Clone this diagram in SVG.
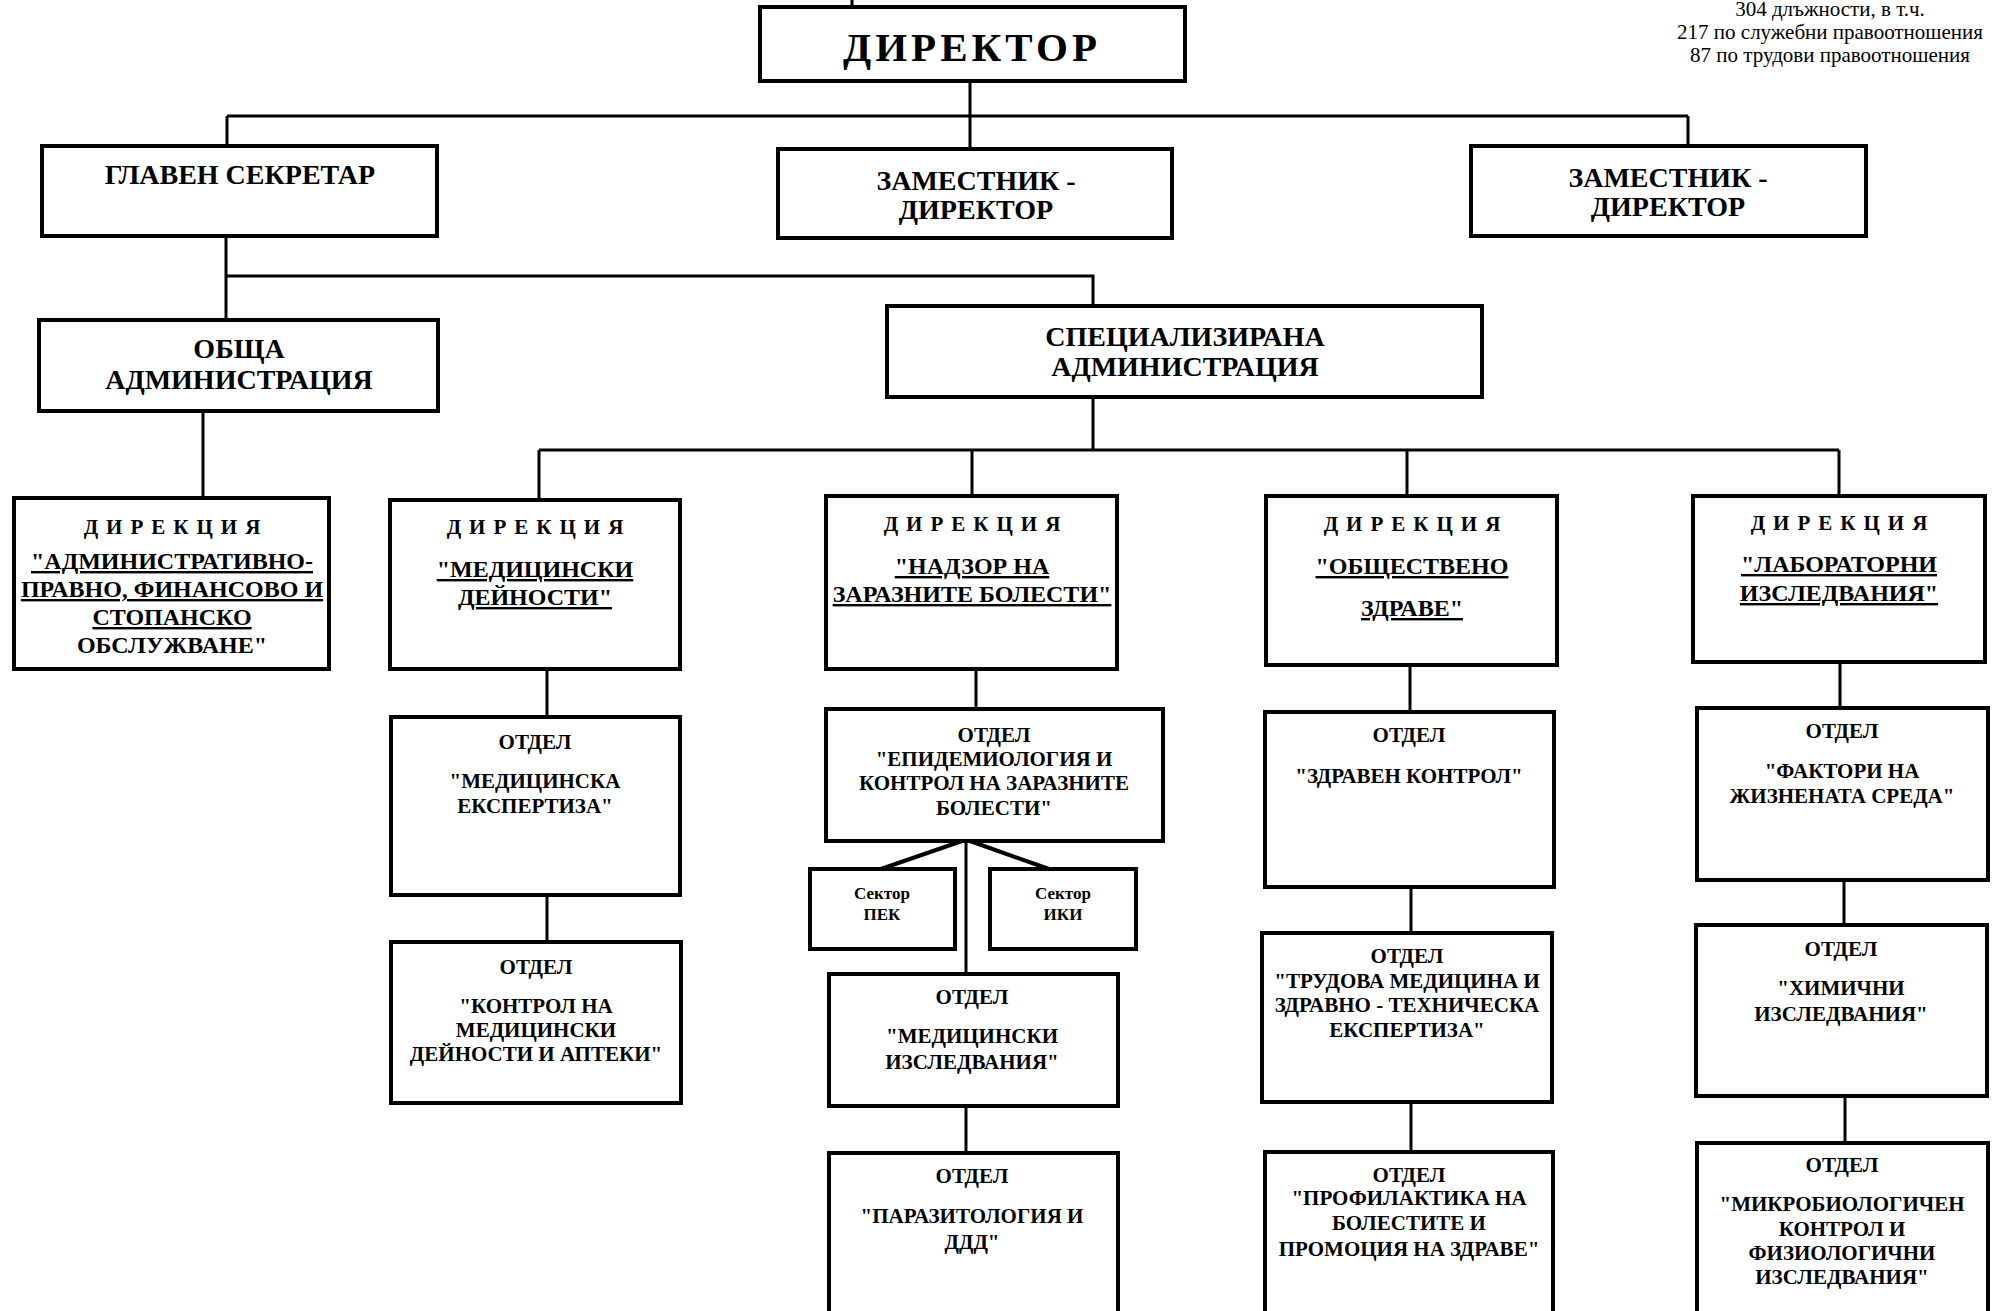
<svg xmlns="http://www.w3.org/2000/svg" width="1993" height="1311" viewBox="0 0 1993 1311">
<style>
.box{fill:#fff;stroke:#000;stroke-width:4}
.c{stroke:#000;stroke-width:3;fill:none}
.t{font-family:"Liberation Serif","Times New Roman",serif;font-weight:bold;text-anchor:middle;fill:#000}
.big{font-size:41px;letter-spacing:4px}
.l1{font-size:28px}
.d{font-size:21px;letter-spacing:8px}
.n{font-size:24px}
.u{text-decoration:underline}
.o{font-size:21px}
.s{font-size:17px}
.note{font-family:"Liberation Serif","Times New Roman",serif;font-size:21px;text-anchor:middle;fill:#000}
</style>
<rect width="1993" height="1311" fill="#fff"/>
<g id="connectors">
<path class="c" d="M852 0V7"/>
<path class="c" d="M970 81V116M227 116H1688M227 116V146M970 116V149M1688 116V146"/>
<path class="c" d="M226 236V320M226 276H1093V306"/>
<path class="c" d="M203 411V498"/>
<path class="c" d="M1093 397V450M539 450H1839M539 450V500M972 450V496M1407 450V496M1839 450V496"/>
<path class="c" d="M547 669V717M547 895V942"/>
<path class="c" d="M976 669V709M966 841V974M966 1106V1153"/>
<path class="c" d="M962 841L881 869M970 841L1049 869" style="stroke-width:4"/>
<path class="c" d="M1410 665V712M1411 887V933M1411 1102V1152"/>
<path class="c" d="M1840 662V708M1844 880V925M1845 1096V1143"/>
</g>
<g id="note">
<text class="note" x="1830" y="16">304 длъжности, в т.ч.</text>
<text class="note" x="1830" y="39">217 по служебни правоотношения</text>
<text class="note" x="1830" y="62">87 по трудови правоотношения</text>
</g>
<g id="director">
<rect class="box" x="760" y="7" width="425" height="74"/>
<text class="t big" x="972" y="61">ДИРЕКТОР</text>
</g>
<g id="chief-secretary">
<rect class="box" x="42" y="146" width="395" height="90"/>
<text class="t l1" x="240" y="184">ГЛАВЕН СЕКРЕТАР</text>
</g>
<g id="deputy-1">
<rect class="box" x="778" y="149" width="394" height="89"/>
<text class="t l1" x="976" y="190">ЗАМЕСТНИК -</text>
<text class="t l1" x="976" y="219">ДИРЕКТОР</text>
</g>
<g id="deputy-2">
<rect class="box" x="1471" y="146" width="395" height="90"/>
<text class="t l1" x="1668" y="187">ЗАМЕСТНИК -</text>
<text class="t l1" x="1668" y="216">ДИРЕКТОР</text>
</g>
<g id="general-admin">
<rect class="box" x="39" y="320" width="399" height="91"/>
<text class="t l1" x="239" y="358">ОБЩА</text>
<text class="t l1" x="239" y="389">АДМИНИСТРАЦИЯ</text>
</g>
<g id="specialized-admin">
<rect class="box" x="887" y="306" width="595" height="91"/>
<text class="t l1" x="1185" y="346">СПЕЦИАЛИЗИРАНА</text>
<text class="t l1" x="1185" y="376">АДМИНИСТРАЦИЯ</text>
</g>
<g id="dir-admin">
<rect class="box" x="14" y="498" width="315" height="171"/>
<text class="t d" x="176" y="534">ДИРЕКЦИЯ</text>
<text class="t n u" x="172" y="569">"АДМИНИСТРАТИВНО-</text>
<text class="t n u" x="172" y="597">ПРАВНО, ФИНАНСОВО И</text>
<text class="t n u" x="172" y="625">СТОПАНСКО</text>
<text class="t n" x="172" y="653">ОБСЛУЖВАНЕ"</text>
</g>
<g id="dir-medical">
<rect class="box" x="390" y="500" width="290" height="169"/>
<text class="t d" x="539" y="534">ДИРЕКЦИЯ</text>
<text class="t n u" x="535" y="577">"МЕДИЦИНСКИ</text>
<text class="t n u" x="535" y="605">ДЕЙНОСТИ"</text>
</g>
<g id="dir-surveillance">
<rect class="box" x="826" y="496" width="291" height="173"/>
<text class="t d" x="976" y="531">ДИРЕКЦИЯ</text>
<text class="t n u" x="972" y="574">"НАДЗОР НА</text>
<text class="t n u" x="972" y="602">ЗАРАЗНИТЕ БОЛЕСТИ"</text>
</g>
<g id="dir-public-health">
<rect class="box" x="1266" y="496" width="291" height="169"/>
<text class="t d" x="1416" y="531">ДИРЕКЦИЯ</text>
<text class="t n u" x="1412" y="574">"ОБЩЕСТВЕНО</text>
<text class="t n u" x="1412" y="616">ЗДРАВЕ"</text>
</g>
<g id="dir-lab">
<rect class="box" x="1693" y="496" width="292" height="166"/>
<text class="t d" x="1843" y="530">ДИРЕКЦИЯ</text>
<text class="t n u" x="1839" y="572">"ЛАБОРАТОРНИ</text>
<text class="t n u" x="1839" y="601">ИЗСЛЕДВАНИЯ"</text>
</g>
<g id="otd-med-expertise">
<rect class="box" x="391" y="717" width="289" height="178"/>
<text class="t o" x="535" y="749">ОТДЕЛ</text>
<text class="t o" x="535" y="788">"МЕДИЦИНСКА</text>
<text class="t o" x="535" y="813">ЕКСПЕРТИЗА"</text>
</g>
<g id="otd-control">
<rect class="box" x="391" y="942" width="290" height="161"/>
<text class="t o" x="536" y="974">ОТДЕЛ</text>
<text class="t o" x="536" y="1013">"КОНТРОЛ НА</text>
<text class="t o" x="536" y="1037">МЕДИЦИНСКИ</text>
<text class="t o" x="536" y="1061">ДЕЙНОСТИ И АПТЕКИ"</text>
</g>
<g id="otd-epidemiology">
<rect class="box" x="826" y="709" width="337" height="132"/>
<text class="t o" x="994" y="742">ОТДЕЛ</text>
<text class="t o" x="994" y="766">"ЕПИДЕМИОЛОГИЯ И</text>
<text class="t o" x="994" y="790">КОНТРОЛ НА ЗАРАЗНИТЕ</text>
<text class="t o" x="994" y="815">БОЛЕСТИ"</text>
</g>
<g id="sector-pek">
<rect class="box" x="810" y="869" width="145" height="80"/>
<text class="t s" x="882" y="899">Сектор</text>
<text class="t s" x="882" y="920">ПЕК</text>
</g>
<g id="sector-iki">
<rect class="box" x="990" y="869" width="146" height="80"/>
<text class="t s" x="1063" y="899">Сектор</text>
<text class="t s" x="1063" y="920">ИКИ</text>
</g>
<g id="otd-med-research">
<rect class="box" x="829" y="974" width="289" height="132"/>
<text class="t o" x="972" y="1004">ОТДЕЛ</text>
<text class="t o" x="972" y="1043">"МЕДИЦИНСКИ</text>
<text class="t o" x="972" y="1069">ИЗСЛЕДВАНИЯ"</text>
</g>
<g id="otd-parasitology">
<rect class="box" x="829" y="1153" width="289" height="170"/>
<text class="t o" x="972" y="1183">ОТДЕЛ</text>
<text class="t o" x="972" y="1223">"ПАРАЗИТОЛОГИЯ И</text>
<text class="t o" x="972" y="1249">ДДД"</text>
</g>
<g id="otd-health-control">
<rect class="box" x="1265" y="712" width="289" height="175"/>
<text class="t o" x="1409" y="742">ОТДЕЛ</text>
<text class="t o" x="1409" y="783">"ЗДРАВЕН КОНТРОЛ"</text>
</g>
<g id="otd-occupational">
<rect class="box" x="1262" y="933" width="290" height="169"/>
<text class="t o" x="1407" y="963">ОТДЕЛ</text>
<text class="t o" x="1407" y="988">"ТРУДОВА МЕДИЦИНА И</text>
<text class="t o" x="1407" y="1012">ЗДРАВНО - ТЕХНИЧЕСКА</text>
<text class="t o" x="1407" y="1037">ЕКСПЕРТИЗА"</text>
</g>
<g id="otd-prevention">
<rect class="box" x="1265" y="1152" width="288" height="170"/>
<text class="t o" x="1409" y="1182">ОТДЕЛ</text>
<text class="t o" x="1409" y="1205">"ПРОФИЛАКТИКА НА</text>
<text class="t o" x="1409" y="1230">БОЛЕСТИТЕ И</text>
<text class="t o" x="1409" y="1256">ПРОМОЦИЯ НА ЗДРАВЕ"</text>
</g>
<g id="otd-environment">
<rect class="box" x="1697" y="708" width="291" height="172"/>
<text class="t o" x="1842" y="738">ОТДЕЛ</text>
<text class="t o" x="1842" y="778">"ФАКТОРИ НА</text>
<text class="t o" x="1842" y="803">ЖИЗНЕНАТА СРЕДА"</text>
</g>
<g id="otd-chemical">
<rect class="box" x="1696" y="925" width="291" height="171"/>
<text class="t o" x="1841" y="956">ОТДЕЛ</text>
<text class="t o" x="1841" y="995">"ХИМИЧНИ</text>
<text class="t o" x="1841" y="1021">ИЗСЛЕДВАНИЯ"</text>
</g>
<g id="otd-microbiology">
<rect class="box" x="1697" y="1143" width="291" height="180"/>
<text class="t o" x="1842" y="1172">ОТДЕЛ</text>
<text class="t o" x="1842" y="1211">"МИКРОБИОЛОГИЧЕН</text>
<text class="t o" x="1842" y="1236">КОНТРОЛ И</text>
<text class="t o" x="1842" y="1260">ФИЗИОЛОГИЧНИ</text>
<text class="t o" x="1842" y="1284">ИЗСЛЕДВАНИЯ"</text>
</g>
</svg>
